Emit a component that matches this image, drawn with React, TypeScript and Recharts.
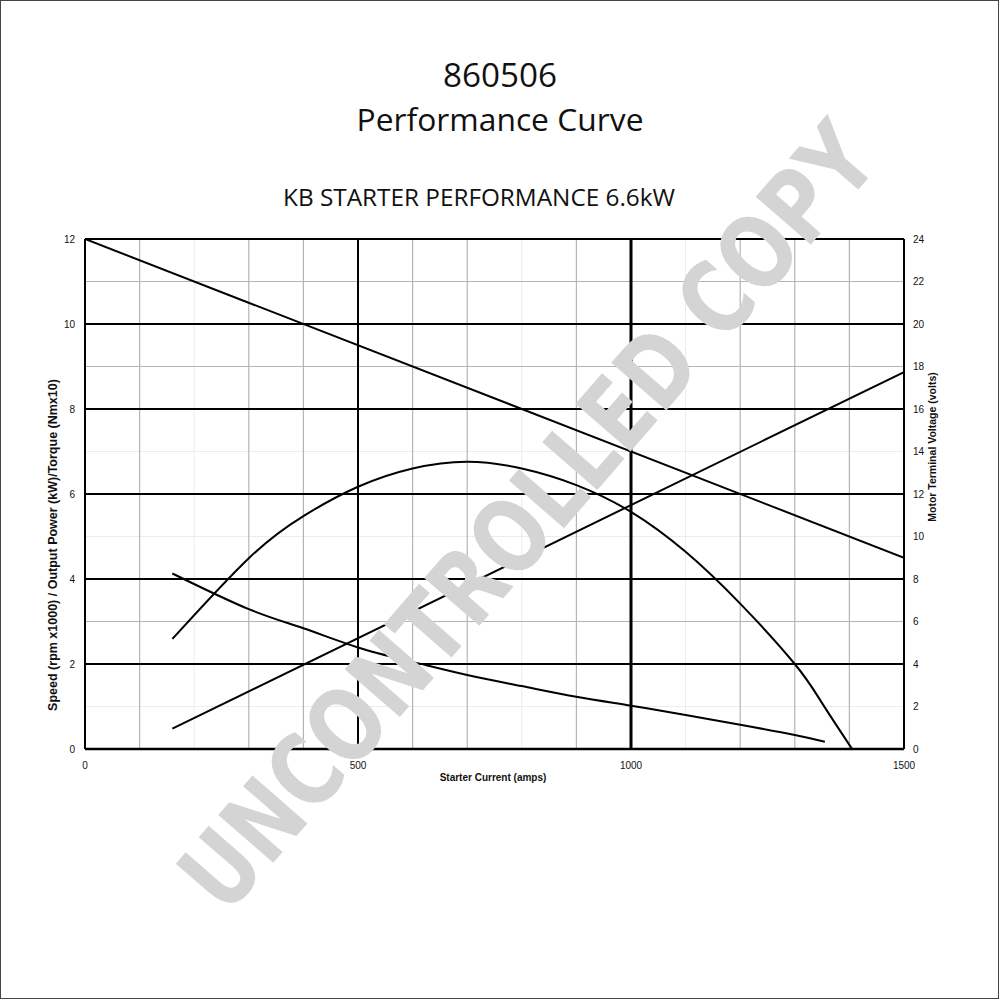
import { LineChart, Line, XAxis, YAxis, ReferenceLine } from "recharts";

// values
const speedCurrent = [160, 300, 400, 500, 600, 700, 800, 900, 1000, 1100, 1200, 1300, 1355];
const speedRpm = [4.13, 3.29, 2.84, 2.39, 2.05, 1.74, 1.48, 1.23, 1.02, 0.8, 0.57, 0.33, 0.17];

const powerCurrent = [160, 300, 400, 500, 600, 700, 800, 900, 1000, 1100, 1200, 1300, 1350, 1405];
const powerKw = [2.59, 4.49, 5.48, 6.17, 6.6, 6.76, 6.6, 6.21, 5.58, 4.64, 3.42, 2.0, 1.08, 0];

const torqueCurrent = [160, 1500];
const torqueNm = [0.48, 8.87];

const voltageCurrent = [0, 1500];
const voltageVolts = [24, 9];

const currentTicks = [0, 500, 1000, 1500];
const leftTicks = [0, 2, 4, 6, 8, 10, 12];
const rightTicks = [0, 2, 4, 6, 8, 10, 12, 14, 16, 18, 20, 22, 24];

// grid as it shows in the scan
const minorX = [100, 300, 400, 600, 700, 900, 1200, 1300, 1400];
const faintX = [200, 800, 1100];
const minorY = [3, 9, 11];
const faintY = [1, 5, 7];
const majorY = [2, 4, 6, 8, 10, 12];

const toPoints = (xs: number[], ys: number[]) => xs.map((x, i) => ({ current: x, value: ys[i] }));

const tickStyle = { fontSize: 10, fill: "#111", fontFamily: "'Liberation Sans', Arial, sans-serif" };

export default function App() {
  return (
    <div
      style={{
        position: "absolute",
        left: 0,
        top: 0,
        width: 1000,
        height: 1000,
        background: "#fff",
        fontFamily: "'Liberation Sans', Arial, sans-serif",
      }}
    >
      <LineChart width={1000} height={1000} margin={{ top: 239, right: 56, bottom: 221, left: 45 }}>
        <XAxis
          type="number"
          dataKey="current"
          domain={[0, 1500]}
          ticks={currentTicks}
          allowDataOverflow
          axisLine={{ stroke: "#000", strokeWidth: 2.5 }}
          tickLine={false}
          tickSize={0}
          tickMargin={13}
          tick={tickStyle}
          height={30}
        />
        <YAxis
          yAxisId="left"
          type="number"
          domain={[0, 12]}
          ticks={leftTicks}
          axisLine={{ stroke: "#000", strokeWidth: 2 }}
          tickLine={false}
          tickSize={0}
          tickMargin={10}
          tick={tickStyle}
          width={40}
        />
        <YAxis
          yAxisId="right"
          orientation="right"
          type="number"
          domain={[0, 24]}
          ticks={rightTicks}
          axisLine={{ stroke: "#000", strokeWidth: 2 }}
          tickLine={false}
          tickSize={0}
          tickMargin={9}
          tick={tickStyle}
          width={40}
        />

        {faintX.map((v) => (
          <ReferenceLine key={"fx" + v} x={v} yAxisId="left" stroke="#ececec" strokeWidth={1} />
        ))}
        {faintY.map((v) => (
          <ReferenceLine key={"fy" + v} y={v} yAxisId="left" stroke="#ececec" strokeWidth={1} />
        ))}
        {minorX.map((v) => (
          <ReferenceLine key={"mx" + v} x={v} yAxisId="left" stroke="#b4b4b4" strokeWidth={1.2} />
        ))}
        {minorY.map((v) => (
          <ReferenceLine key={"my" + v} y={v} yAxisId="left" stroke="#b4b4b4" strokeWidth={1.2} />
        ))}
        {majorY.map((v) => (
          <ReferenceLine key={"My" + v} y={v} yAxisId="left" stroke="#000" strokeWidth={2} />
        ))}
        <ReferenceLine x={500} yAxisId="left" stroke="#000" strokeWidth={2} />
        <ReferenceLine x={1000} yAxisId="left" stroke="#000" strokeWidth={3} />

        <Line
          yAxisId="right"
          data={toPoints(voltageCurrent, voltageVolts)}
          dataKey="value"
          type="linear"
          stroke="#000"
          strokeWidth={2}
          dot={false}
          isAnimationActive={false}
        />
        <Line
          yAxisId="left"
          data={toPoints(torqueCurrent, torqueNm)}
          dataKey="value"
          type="linear"
          stroke="#000"
          strokeWidth={2}
          dot={false}
          isAnimationActive={false}
        />
        <Line
          yAxisId="left"
          data={toPoints(powerCurrent, powerKw)}
          dataKey="value"
          type="natural"
          stroke="#000"
          strokeWidth={2}
          dot={false}
          isAnimationActive={false}
        />
        <Line
          yAxisId="left"
          data={toPoints(speedCurrent, speedRpm)}
          dataKey="value"
          type="natural"
          stroke="#000"
          strokeWidth={2}
          dot={false}
          isAnimationActive={false}
        />
      </LineChart>

      <svg
        width={1000}
        height={1000}
        style={{ position: "absolute", left: 0, top: 0, pointerEvents: "none" }}
      >
        <rect x={0.5} y={0.5} width={998} height={998} fill="none" stroke="#444" strokeWidth={1} />

        <g fontFamily="'Open Sans', 'Noto Sans', sans-serif" fill="#111" textAnchor="middle">
          <text x={500} y={87} fontSize={32} textLength={114} lengthAdjust="spacingAndGlyphs">
            860506
          </text>
          <text x={500} y={131} fontSize={31} textLength={287} lengthAdjust="spacingAndGlyphs">
            Performance Curve
          </text>
          <text x={479} y={206} fontSize={23} textLength={392} lengthAdjust="spacingAndGlyphs">
            KB STARTER PERFORMANCE 6.6kW
          </text>
        </g>

        <g fontFamily="'Liberation Sans', Arial, sans-serif" fill="#111" fontWeight="bold">
          <text x={493} y={781} fontSize={10} textAnchor="middle">
            Starter Current (amps)
          </text>
          <text transform="translate(57,545) rotate(-90)" fontSize={12.5} textAnchor="middle">
            Speed (rpm x1000) / Output Power (kW)/Torque (Nmx10)
          </text>
          <text transform="translate(936,447) rotate(-90)" fontSize={10.5} textAnchor="middle">
            Motor Terminal Voltage (volts)
          </text>
        </g>

        <text
          transform="translate(528,517) rotate(-49)"
          textAnchor="middle"
          dominantBaseline="central"
          fontFamily="'DejaVu Sans', sans-serif"
          fontWeight="bold"
          fontSize={100}
          fill="#d4d4d4"
          textLength={1000}
          lengthAdjust="spacingAndGlyphs"
        >
          UNCONTROLLED COPY
        </text>
      </svg>
    </div>
  );
}
